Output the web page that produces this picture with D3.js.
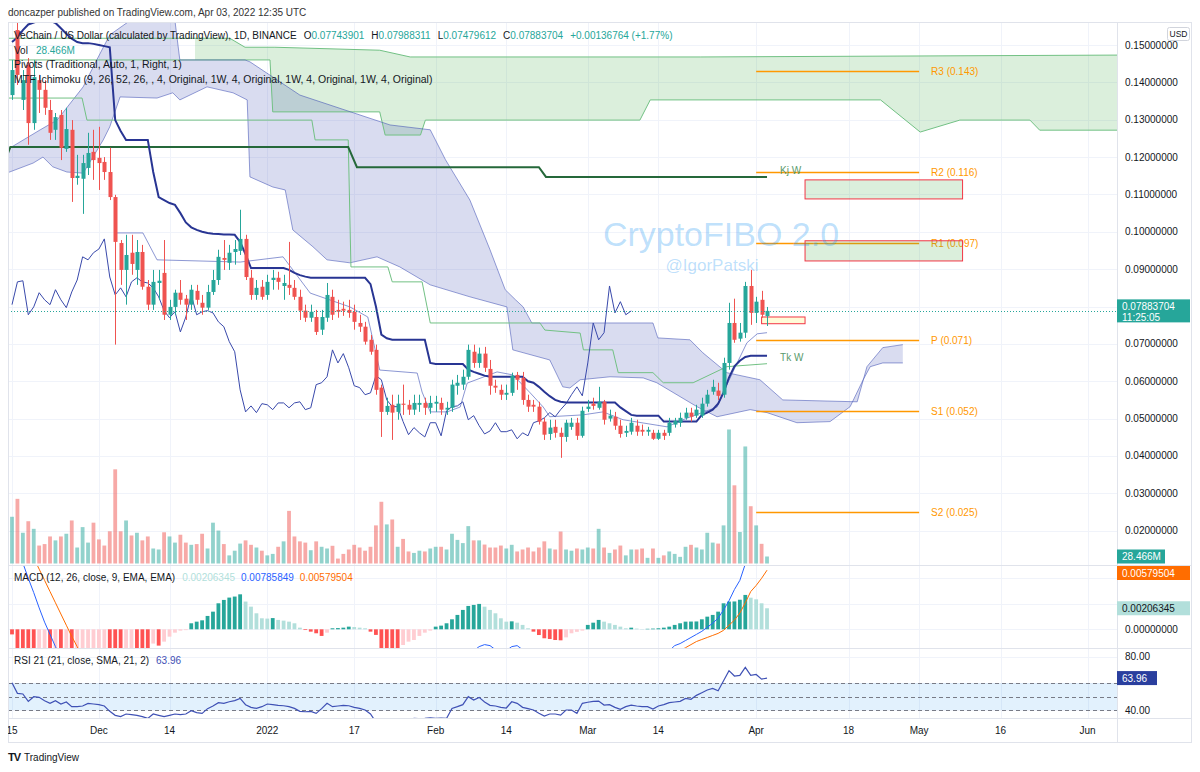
<!DOCTYPE html>
<html>
<head>
<meta charset="utf-8">
<title>VETUSD 1D</title>
<script src="https://cdnjs.cloudflare.com/ajax/libs/d3/7.8.5/d3.min.js"></script>
<style>
  body { margin: 0; background: #ffffff; }
  svg { display: block; font-family: "Liberation Sans", Arial, sans-serif; }
</style>
</head>
<body>
<div id="chart"></div>
<script>
// ---------- data (daily candles from 2021-11-15, one per day) ----------
var startDate = "2021-11-15";

var opens = [.1366,.1540,.1353,.1447,.1291,.1406,.1380,.1326,.1273,.1313,
  .1222,.1273,.1144,.1142,.1171,.1214,.1198,.1187,.1160,.1093,
  .0970,.0898,.0944,.0898,.0946,.0853,.0805,.0863,.0890,.0778,
  .0799,.0837,.0821,.0805,.0842,.0810,.0797,.0839,.0871,.0930,
  .0917,.0946,.0949,.0981,.0877,.0831,.0853,.0831,.0871,.0877,
  .0855,.0858,.0850,.0826,.0789,.0770,.0772,.0738,.0770,.0826,
  .0791,.0794,.0791,.0786,.0756,.0746,.0711,.0684,.0583,.0518,
  .0537,.0518,.0540,.0537,.0524,.0537,.0542,.0529,.0540,.0542,
  .0524,.0529,.0588,.0591,.0612,.0679,.0649,.0674,.0633,.0588,
  .0577,.0564,.0569,.0617,.0609,.0550,.0537,.0532,.0492,.0459,
  .0478,.0462,.0451,.0478,.0489,.0454,.0526,.0540,.0529,.0545,
  .0500,.0505,.0481,.0462,.0465,.0481,.0470,.0465,.0462,.0446,
  .0462,.0462,.0484,.0489,.0502,.0516,.0508,.0508,.0540,.0572,
  .0575,.0564,.0649,.0756,.0714,.0730,.0855,.0783,.0818,.07743901];

var highs = [.1460,.1567,.1433,.1465,.1460,.1420,.1406,.1353,.1318,.1326,
  .1332,.1299,.1206,.1206,.1265,.1273,.1281,.1200,.1225,.1099,
  .0978,.0992,.0992,.0978,.0965,.0871,.0898,.0898,.0978,.0818,
  .0845,.0871,.0831,.0858,.0858,.0831,.0858,.0898,.0952,.0978,
  .0965,.0978,.1059,.0992,.0898,.0871,.0871,.0885,.0898,.0893,
  .0885,.0973,.0871,.0845,.0805,.0805,.0791,.0791,.0863,.0845,
  .0818,.0813,.0818,.0805,.0778,.0759,.0724,.0698,.0591,.0556,
  .0564,.0564,.0591,.0550,.0564,.0564,.0556,.0561,.0561,.0556,
  .0545,.0604,.0617,.0631,.0698,.0698,.0690,.0692,.0657,.0604,
  .0591,.0591,.0623,.0625,.0625,.0564,.0550,.0545,.0502,.0497,
  .0497,.0476,.0497,.0502,.0502,.0532,.0550,.0556,.0585,.0550,
  .0524,.0518,.0497,.0481,.0502,.0497,.0484,.0478,.0470,.0470,
  .0470,.0502,.0502,.0516,.0529,.0529,.0537,.0556,.0577,.0604,
  .0596,.0663,.0810,.0821,.0756,.0866,.0898,.0826,.0842,.07988311];

var lows = [.1353,.1393,.1326,.1233,.1273,.1318,.1313,.1246,.1246,.1192,
  .1214,.1080,.1126,.1048,.1152,.1139,.1112,.1139,.1085,.0698,
  .0858,.0805,.0885,.0858,.0845,.0791,.0791,.0818,.0764,.0764,
  .0778,.0805,.0764,.0791,.0805,.0778,.0791,.0831,.0858,.0898,
  .0898,.0912,.0938,.0871,.0818,.0818,.0818,.0818,.0845,.0845,
  .0818,.0831,.0818,.0764,.0759,.0759,.0724,.0724,.0759,.0764,
  .0770,.0775,.0770,.0738,.0732,.0698,.0671,.0564,.0451,.0510,
  .0443,.0497,.0510,.0510,.0510,.0518,.0510,.0513,.0518,.0510,
  .0510,.0518,.0564,.0577,.0604,.0636,.0636,.0625,.0564,.0569,
  .0550,.0550,.0561,.0577,.0537,.0518,.0518,.0484,.0443,.0443,
  .0449,.0395,.0438,.0470,.0443,.0449,.0518,.0524,.0524,.0484,
  .0492,.0470,.0449,.0451,.0457,.0454,.0454,.0454,.0443,.0443,
  .0443,.0454,.0476,.0478,.0497,.0492,.0502,.0502,.0532,.0564,
  .0550,.0556,.0631,.0703,.0706,.0716,.0751,.0756,.0770,.07479612];

var closes = [.1433,.1420,.1406,.1291,.1414,.1380,.1332,.1265,.1307,.1225,
  .1275,.1144,.1150,.1184,.1211,.1192,.1184,.1160,.1093,.0973,
  .0898,.0938,.0914,.0946,.0853,.0805,.0866,.0869,.0778,.0799,
  .0837,.0818,.0805,.0845,.0818,.0797,.0839,.0871,.0933,.0925,
  .0944,.0954,.0981,.0879,.0831,.0850,.0826,.0866,.0877,.0866,
  .0863,.0850,.0826,.0789,.0770,.0786,.0732,.0772,.0831,.0778,
  .0786,.0789,.0783,.0759,.0746,.0706,.0679,.0577,.0518,.0534,
  .0516,.0540,.0537,.0524,.0542,.0542,.0529,.0542,.0545,.0524,
  .0529,.0591,.0596,.0612,.0684,.0649,.0674,.0636,.0588,.0583,
  .0564,.0569,.0615,.0604,.0550,.0532,.0532,.0492,.0457,.0476,
  .0462,.0451,.0489,.0489,.0454,.0521,.0532,.0534,.0545,.0497,
  .0508,.0481,.0459,.0467,.0489,.0465,.0465,.0470,.0446,.0462,
  .0454,.0489,.0494,.0502,.0516,.0505,.0524,.0540,.0564,.0585,
  .0561,.0649,.0756,.0711,.0730,.0855,.0783,.0813,.0778,.07883704];

// volume, millions of VET
var volumes = [190,263,125,172,141,73,79,110,94,110,
  121,175,65,148,85,166,98,73,131,383,
  131,175,114,125,94,110,61,57,127,110,
  85,117,85,76,79,121,61,166,134,79,
  33,52,81,94,76,65,52,33,39,68,
  90,214,110,90,85,54,90,68,61,72,
  20,39,57,76,65,52,68,155,251,159,
  179,68,100,49,43,52,49,61,68,68,
  57,121,96,83,152,94,94,77,65,65,
  73,61,76,49,57,65,49,65,90,61,
  57,130,57,52,61,57,65,61,141,65,
  43,57,73,33,57,57,61,23,61,23,
  33,49,39,27,68,76,65,57,125,85,
  81,155,545,318,128,476,233,155,80,28.466];

// weekly tenkan, drawn on the daily candles
var tenkan = [.1508,.1520,.1540,.1555,.1560,.1565,.1565,.1565,.1559,.1545,
  .1530,.1517,.1508,.1505,.1505,.1503,.1500,.1497,.1494,.1299,
  .1270,.1246,.1246,.1246,.1246,.1246,.1160,.1093,.1085,.1077,
  .1072,.1050,.1025,.1012,.1005,.1000,.0997,.0995,.0994,.0993,
  .0993,.0992,.0973,.0940,.0903,.0903,.0903,.0903,.0903,.0903,
  .0903,.0898,.0890,.0884,.0880,.0877,.0877,.0877,.0877,.0877,
  .0877,.0877,.0877,.0877,.0877,.0877,.0860,.0800,.0725,.0715,
  .0711,.0711,.0711,.0711,.0711,.0711,.0711,.0649,.0646,.0646,
  .0646,.0646,.0646,.0646,.0631,.0625,.0620,.0615,.0612,.0612,
  .0612,.0612,.0612,.0612,.0612,.0600,.0596,.0585,.0572,.0560,
  .0550,.0545,.0543,.0543,.0543,.0543,.0543,.0543,.0543,.0543,
  .0543,.0543,.0530,.0520,.0510,.0508,.0508,.0508,.0508,.0508,
  .0492,.0492,.0492,.0492,.0492,.0492,.0492,.0510,.0516,.0524,
  .0540,.0570,.0610,.0640,.0655,.0665,.0668,.0668,.0668,.0668];

// step / cloud outlines as [day offset, price]
var kijun = [[-1,.1200],[-0.3,.1227],[61.9,.1227],[63.5,.1173],[97,.1173],[98.3,.1147],[139,.1147]];

var lavUpper = [[-1,.1219],[5.2,.1273],[8.3,.1299],[13.1,.1388],[15.6,.1460],[18,.1527],[21.7,.1565],[30,.1565],
  [30.9,.1460],[42.9,.1460],[43.8,.1455],[53,.1366],[69.6,.1286],[77,.1273],[79.8,.1193],[84.3,.1085],
  [88,.0952],[90.8,.0845],[92.7,.0818],[94.1,.0799],[95.7,.0756],[118,.0756],[118.9,.0716],[124.8,.0711],
  [127.2,.0676],[131.6,.0623],[137.7,.0604],[141.9,.0550],[155.6,.0545],[157.4,.0639],[160.3,.0690],[164,.0698]];
var lavLower = [[-1,.1157],[3.9,.1184],[5.7,.1200],[7.5,.1174],[10.1,.1160],[13.1,.1157],[14.9,.1200],[16.8,.1246],
  [18,.1281],[19.9,.1361],[26.7,.1358],[29.6,.1372],[30.9,.1353],[35.9,.1388],[40.7,.1372],[43.3,.1353],
  [43.8,.1147],[48,.1120],[50.3,.1112],[51.7,.1005],[55.4,.0960],[58,.0925],[62.2,.0917],[67.2,.0933],
  [71.4,.0906],[77,.0858],[84.3,.0826],[91.1,.0799],[92.2,.0684],[99,.0657],[101.4,.0585],[102.7,.0582],
  [104.6,.0604],[110.1,.0612],[116.2,.0609],[118.7,.0596],[126.1,.0532],[129.8,.0505],[135.9,.0524],
  [139,.0516],[144.5,.0489],[150.6,.0492],[154.3,.0532],[156.7,.0604],[158,.0639],[160.3,.0649],[164,.0649]];

var greenUpper = [[-1,.1518],[40.1,.1518],[42.9,.1494],[48.4,.1494],[67.7,.1486],[73.3,.1468],[126.7,.1468],[203.5,.1473]];
var greenLower = [[-1,.1460],[47.5,.1460],[48,.1321],[67.7,.1321],[68.7,.1259],[75.2,.1259],[76.1,.1299],
  [115.6,.1299],[117.5,.1353],[159.9,.1353],[167.2,.1267],[174.5,.1299],[187.4,.1299],[189.2,.1272],[203.5,.1272]];
var greenFillFrom = 33.7;

var kijunDaily = [[-1,.1358],[12.9,.1358],[13.8,.1299],[55.2,.1299],[55.8,.1246],[61.9,.1246],[62.4,.0906],
  [69.2,.0906],[70,.0866],[75.5,.0866],[77,.0756],[97.2,.0756],[98.1,.0737],[104.6,.0729],[105.2,.0684],
  [110.6,.0684],[111.6,.0623],[118,.0623],[119.9,.0596],[125.4,.0596],[131.6,.0639],[139,.0647]];

var tenkanDaily = [[19,.0997],[24.1,.0997],[26.7,.0925],[42,.0919],[49.9,.0933],[54.9,.0836],[62.2,.0799],
  [65.5,.0772],[67.7,.0630],[74.6,.0622],[75.5,.0571],[77,.0518],[80.1,.0518],[82.5,.0531],[83.8,.0595],
  [89.3,.0625],[92.2,.0617],[95.4,.0569],[97.8,.0531],[99,.0505],[105.1,.0510],[108.8,.0518],[112.5,.0497],
  [120.6,.0478],[123.5,.0497],[129.8,.0531],[131.6,.0590],[133.5,.0649],[135.3,.0703],[137.2,.0727],[139,.0730]];

var laggingShift = 25;

// pivots (Apr 1 - May 1)
var pivotNames = ["R3", "R2", "R1", "P", "S1", "S2"];
var pivotValues = [0.143, 0.116, 0.097, 0.071, 0.052, 0.025];
var pivotFrom = 137, pivotTo = 167;

// rectangles drawn by the author
var boxFrom = [146, 146, 138];
var boxTo = [175, 175, 146];
var boxTop = [0.1139, 0.0976, 0.0772];
var boxBottom = [0.1088, 0.0922, 0.0754];

// MACD
var macdHist = [-0.0005,-0.0030,-0.0036,-0.0042,-0.0048,-0.0046,-0.0044,-0.0048,-0.0046,-0.0050,
  -0.0048,-0.0052,-0.0050,-0.0047,-0.0044,-0.0041,-0.0038,-0.0035,-0.0040,-0.0045,
  -0.0048,-0.0044,-0.0040,-0.0043,-0.0045,-0.0047,-0.0014,-0.0016,-0.00121,-0.00072,
  -0.00033,-0.00013,-0.00008,0.00059,0.00075,0.00088,0.00131,0.00173,0.00255,0.00288,
  0.00311,0.00321,0.00343,0.00272,0.00222,0.00157,0.00108,0.00105,0.00110,0.00092,
  0.00085,0.00075,0.00059,0.00016,-0.00007,-0.00023,-0.00039,-0.00065,-0.00033,0.00010,
  0.00012,0.00016,0.00026,0.00022,0.00016,0.00010,-0.00023,-0.00055,-0.0019,-0.0022,
  -0.0024,-0.0025,-0.00154,-0.00121,-0.00105,-0.00065,-0.00033,-0.00013,0.00026,0.00036,
  0.00059,0.00098,0.00141,0.0019,0.00229,0.00239,0.00249,0.00222,0.0019,0.00157,
  0.00108,0.00075,0.00078,0.00065,0.00043,0.0001,-0.00023,-0.00056,-0.00088,-0.00095,
  -0.00105,-0.00108,-0.00079,-0.00039,-0.00025,-0.00013,0.00043,0.00065,0.00092,0.00075,
  0.00059,0.00043,0.00026,0.0001,0.00016,0.00007,0.00003,0.00005,0.00007,0.0001,
  0.00016,0.00026,0.00043,0.00059,0.00075,0.00076,0.00077,0.00098,0.00124,0.00141,
  0.00173,0.00255,0.00272,0.00273,0.0029,0.00337,0.0031,0.00294,0.00255,0.00206345];

// MACD and signal lines, only the parts that sit inside the pane
var macdParts = [
  [0, [0.0095,0.0078,0.0065,0.0050,0.0036,0.0021,0.0007,-0.0005,-0.0017,-0.0029]],
  [85, [-0.0021,-0.0017,-0.0015,-0.0016,-0.0020]],
  [91, [-0.0021,-0.0017,-0.0016,-0.0020]],
  [121, [-0.0021,-0.0016,-0.0014,-0.0011,-0.0008,-0.0005,-0.0002,0.0002,0.0006,0.0011,
         0.0019,0.0028,0.0039,0.0048,0.0064,0.0072,0.0076,0.0078,0.00785849]]
];
var signalParts = [
  [3, [0.0081,0.0070,0.0059,0.0048,0.0037,0.0026,0.0015,0.0004,-0.0007,-0.0017,-0.0028]],
  [123, [-0.0021,-0.0018,-0.0015,-0.0012,-0.0010,-0.0008,-0.0006,-0.0004,-0.0001,0.0004,
         0.0009,0.0016,0.0026,0.0037,0.0043,0.0050,0.00579504]]
];

// RSI 21
var rsi = [60.5,52.5,52,46.5,50,49.5,47,45,47,44.5,
  46,42.5,42.5,43,45,44.5,44,43,39,36,
  35,37,36.5,36,35,33.7,37,36,35,36,
  37,36.5,37,39.5,38,37.5,41,43,45.5,45,
  46.2,47,48.7,44,42,41.2,42.5,44.5,44,43.5,
  43.2,42.5,41.2,39,38.7,39,37.5,41,45,42.5,
  43,43.5,43.2,42,41.2,40,37,31,28,29,
  28,29,30,32,33.7,33.5,33.8,34.2,33.7,33.9,
  33.7,41.2,42.5,44,50,47.5,49.5,46,43.5,43,
  42,41.5,46.2,45,42,41,40,37.5,35.5,37,
  37,36.2,40,40,37.5,45,45.8,46.5,46.7,43.7,
  44,42,40.5,42.5,43.7,43,42.5,42.5,40.7,43,
  44,45.5,46,46.5,48.7,48,51,53,55,56.2,
  54.5,62,69.5,65.5,66,72,66,66.7,63.2,63.96];
var rsiBand = [60, 50, 40];

// axes
var priceTicks = [0.15,0.14,0.13,0.12,0.11,0.10,0.09,0.08,0.07,0.06,0.05,0.04,0.03,0.02];
var macdTicks = [0.005, 0.0025, 0];
var rsiTicks = [80, 60, 40];
var timeTickDates = ["2021-11-15","2021-12-01","2021-12-14","2022-01-01","2022-01-17","2022-02-01","2022-02-14",
  "2022-03-01","2022-03-14","2022-04-01","2022-04-18","2022-05-01","2022-05-16","2022-06-01"];
var timeTickLabels = ["15","Dec","14","2022","17","Feb","14","Mar","14","Apr","18","May","16","Jun"];

// ---------- layout ----------
var left = 8, right = 1117, frameRight = 1191;
var plotTop = 22, mainBottom = 565, macdBottom = 648, rsiBottom = 718, axisBottom = 742;
var up = "#26a69a", down = "#ef5350";

var parse = d3.utcParse("%Y-%m-%d");
var t0 = parse(startDate);
function dayDate(d) { return new Date(t0.getTime() + d * 864e5); }

var x = d3.scaleUtc().domain([t0, parse("2022-06-01")]).range([12, 1087.5]);
function xd(d) { return x(dayDate(d)); }
var y = d3.scaleLinear().domain([0.02, 0.15]).range([530.7, 45]);
var yVol = d3.scaleLinear().domain([0, 545]).range([563.5, 429.5]);
var yMacd = d3.scaleLinear().domain([0, 0.00579504]).range([629.3, 570.2]);
var yRsi = d3.scaleLinear().domain([40, 80]).range([710, 656.7]);

var svg = d3.select("#chart").append("svg")
  .attr("width", 1200).attr("height", 772);

svg.append("rect").attr("width", 1200).attr("height", 772).attr("fill", "#ffffff");

var defs = svg.append("defs");
function addClip(id, x0, y0, x1, y1) {
  defs.append("clipPath").attr("id", id).append("rect")
    .attr("x", x0).attr("y", y0).attr("width", x1 - x0).attr("height", y1 - y0);
}
addClip("clipMain", left, plotTop, right, mainBottom);
addClip("clipMacd", left, mainBottom, right, macdBottom);
addClip("clipRsi", left, macdBottom, right, rsiBottom);
addClip("clipGreen", xd(greenFillFrom), plotTop, right, mainBottom);
addClip("clipAxis", left, rsiBottom, right, axisBottom);

// grid
var grid = svg.append("g").attr("stroke", "#f0f3fa").attr("stroke-width", 1);
priceTicks.forEach(function(v) {
  grid.append("line").attr("x1", left).attr("x2", right)
    .attr("y1", Math.round(y(v)) + 0.5).attr("y2", Math.round(y(v)) + 0.5);
});
macdTicks.forEach(function(v) {
  grid.append("line").attr("x1", left).attr("x2", right)
    .attr("y1", Math.round(yMacd(v)) + 0.5).attr("y2", Math.round(yMacd(v)) + 0.5);
});
rsiTicks.forEach(function(v) {
  grid.append("line").attr("x1", left).attr("x2", right)
    .attr("y1", Math.round(yRsi(v)) + 0.5).attr("y2", Math.round(yRsi(v)) + 0.5);
});
timeTickDates.forEach(function(s) {
  var xx = Math.round(x(parse(s))) + 0.5;
  if (xx < left || xx > right) return;
  grid.append("line").attr("x1", xx).attr("x2", xx).attr("y1", plotTop).attr("y2", rsiBottom);
});

// ---------- main pane ----------
var main = svg.append("g").attr("clip-path", "url(#clipMain)");

var pts = d3.line().x(function(p) { return xd(p[0]); }).y(function(p) { return y(p[1]); });
function bandPath(upper, lower) {
  return pts(upper.concat(lower.slice().reverse())) + "Z";
}

// clouds
main.append("path").attr("d", bandPath(greenUpper, greenLower))
  .attr("clip-path", "url(#clipGreen)")
  .attr("fill", "rgba(76,175,80,0.2)");
main.append("path").attr("d", bandPath(lavUpper, lavLower))
  .attr("fill", "rgba(63,81,181,0.2)");

[greenUpper, greenLower].forEach(function(a) {
  main.append("path").attr("d", pts(a)).attr("fill", "none")
    .attr("stroke", "#72c184").attr("stroke-width", 1);
});
[lavUpper, lavLower].forEach(function(a) {
  main.append("path").attr("d", pts(a)).attr("fill", "none")
    .attr("stroke", "rgba(63,81,181,0.55)").attr("stroke-width", 1);
});

main.append("path").attr("d", pts(kijunDaily)).attr("fill", "none")
  .attr("stroke", "#72c184").attr("stroke-width", 1);
main.append("path").attr("d", pts(tenkanDaily)).attr("fill", "none")
  .attr("stroke", "rgba(63,81,181,0.6)").attr("stroke-width", 1);

// lagging span: closes moved back
var lagging = closes.map(function(c, i) { return [i - laggingShift, c]; })
  .filter(function(p) { return p[0] >= 0; });
main.append("path").attr("d", pts(lagging)).attr("fill", "none")
  .attr("stroke", "#3949ab").attr("stroke-width", 1);

main.append("path").attr("d", pts(kijun)).attr("fill", "none")
  .attr("stroke", "#25683a").attr("stroke-width", 2);
main.append("path").attr("d", pts(tenkan.map(function(v, i) { return [i, v]; })))
  .attr("fill", "none").attr("stroke", "#283593").attr("stroke-width", 2);

// volume
var candles = opens.map(function(o, i) {
  return { i: i, o: o, h: highs[i], l: lows[i], c: closes[i], v: volumes[i] };
});
main.append("g").selectAll("rect").data(candles).enter().append("rect")
  .attr("x", function(d) { return xd(d.i) - 1.9; })
  .attr("width", 3.8)
  .attr("y", function(d) { return yVol(d.v); })
  .attr("height", function(d) { return yVol(0) - yVol(d.v); })
  .attr("fill", function(d) { return d.c >= d.o ? up : down; })
  .attr("opacity", 0.5);

// pivots
pivotValues.forEach(function(v, k) {
  var yy = Math.round(y(v)) + 0.5;
  main.append("line").attr("x1", xd(pivotFrom)).attr("x2", xd(pivotTo))
    .attr("y1", yy).attr("y2", yy).attr("stroke", "#ff9800").attr("stroke-width", 1.5);
  main.append("text").attr("x", xd(pivotTo) + 12).attr("y", yy + 3.5)
    .attr("font-size", 10).attr("fill", "#ff9800")
    .text(pivotNames[k] + " (" + v + ")");
});

// boxes
boxFrom.forEach(function(d0, k) {
  main.append("rect")
    .attr("x", xd(d0)).attr("width", xd(boxTo[k]) - xd(d0))
    .attr("y", y(boxTop[k])).attr("height", y(boxBottom[k]) - y(boxTop[k]))
    .attr("fill", k < 2 ? "rgba(76,175,80,0.2)" : "rgba(255,235,59,0.2)")
    .attr("stroke", "#f23645").attr("stroke-width", 1);
});

// candles
var cg = main.append("g");
cg.selectAll("line").data(candles).enter().append("line")
  .attr("x1", function(d) { return Math.round(xd(d.i)) + 0.5; })
  .attr("x2", function(d) { return Math.round(xd(d.i)) + 0.5; })
  .attr("y1", function(d) { return y(d.h); })
  .attr("y2", function(d) { return y(d.l); })
  .attr("stroke", function(d) { return d.c >= d.o ? up : down; })
  .attr("stroke-width", 1);
cg.selectAll("rect").data(candles).enter().append("rect")
  .attr("x", function(d) { return Math.round(xd(d.i)) - 1.5; })
  .attr("width", 4)
  .attr("y", function(d) { return y(Math.max(d.o, d.c)); })
  .attr("height", function(d) { return Math.max(1, Math.abs(y(d.o) - y(d.c))); })
  .attr("fill", function(d) { return d.c >= d.o ? up : down; });

// line labels
main.append("text").attr("x", xd(141.4)).attr("y", y(0.1163) + 3.5)
  .attr("font-size", 10).attr("fill", "#5a9a6c").text("Kj W");
main.append("text").attr("x", xd(141.4)).attr("y", y(0.0663) + 3.5)
  .attr("font-size", 10).attr("fill", "#5a9a6c").text("Tk W");

// watermark text drawing
main.append("text").attr("x", 721).attr("y", 246).attr("text-anchor", "middle")
  .attr("font-size", 34).attr("fill", "rgba(33,150,243,0.3)").text("CryptoFIBO 2.0");
main.append("text").attr("x", 712).attr("y", 271).attr("text-anchor", "middle")
  .attr("font-size", 17).attr("fill", "rgba(33,150,243,0.3)").text("@IgorPatski");

// last price line
var lastPrice = closes[closes.length - 1];
svg.append("line").attr("x1", left).attr("x2", right)
  .attr("y1", Math.round(y(lastPrice)) + 0.5).attr("y2", Math.round(y(lastPrice)) + 0.5)
  .attr("stroke", up).attr("stroke-dasharray", "1,2");

// ---------- MACD pane ----------
var macd = svg.append("g").attr("clip-path", "url(#clipMacd)");
function histColor(h, i) {
  var prev = i > 0 ? macdHist[i - 1] : 0;
  if (h >= 0) return h >= prev ? "#26a69a" : "#b2dfdb";
  return h <= prev ? "#ff5252" : "#ffcdd2";
}
macd.selectAll("rect").data(macdHist).enter().append("rect")
  .attr("x", function(d, i) { return xd(i) - 1.9; })
  .attr("width", 3.8)
  .attr("y", function(d) { return Math.min(yMacd(d), yMacd(0)); })
  .attr("height", function(d) { return Math.abs(yMacd(d) - yMacd(0)); })
  .attr("fill", histColor);

var macdLine = d3.line().x(function(p) { return xd(p[0]); }).y(function(p) { return yMacd(p[1]); });
function drawParts(parts, color) {
  parts.forEach(function(part) {
    var arr = part[1].map(function(v, k) { return [part[0] + k, v]; });
    macd.append("path").attr("d", macdLine(arr)).attr("fill", "none")
      .attr("stroke", color).attr("stroke-width", 1);
  });
}
drawParts(macdParts, "#2962ff");
drawParts(signalParts, "#ff6d00");

// ---------- RSI pane ----------
var rsiG = svg.append("g").attr("clip-path", "url(#clipRsi)");
rsiG.append("rect").attr("x", left).attr("width", right - left)
  .attr("y", yRsi(rsiBand[0])).attr("height", yRsi(rsiBand[2]) - yRsi(rsiBand[0]))
  .attr("fill", "rgba(33,150,243,0.13)");
rsiBand.forEach(function(v) {
  rsiG.append("line").attr("x1", left).attr("x2", right)
    .attr("y1", Math.round(yRsi(v)) + 0.5).attr("y2", Math.round(yRsi(v)) + 0.5)
    .attr("stroke", "#787b86").attr("stroke-dasharray", "4,3").attr("stroke-width", 1);
});
rsiG.append("path")
  .attr("d", d3.line().x(function(v, i) { return xd(i); }).y(function(v) { return yRsi(v); })(rsi))
  .attr("fill", "none").attr("stroke", "#3f51b5").attr("stroke-width", 1.2);

// ---------- frame and axes ----------
var frame = svg.append("g").attr("stroke", "#e0e3eb").attr("fill", "none");
frame.append("rect").attr("x", left + 0.5).attr("y", plotTop + 0.5)
  .attr("width", frameRight - left).attr("height", axisBottom - plotTop);
frame.append("line").attr("x1", right + 0.5).attr("x2", right + 0.5).attr("y1", plotTop).attr("y2", axisBottom);
[mainBottom, macdBottom, rsiBottom].forEach(function(yy) {
  frame.append("line").attr("x1", left).attr("x2", frameRight).attr("y1", yy + 0.5).attr("y2", yy + 0.5);
});

var fmt8 = d3.format(".8f");
var n = closes.length - 1;

// value labels on the scale (tick labels that they would cover are skipped)
var scaleLabels = [
  { yc: y(closes[n]), h: 23, w: 73, fill: up, color: "#ffffff", lines: [fmt8(closes[n]), "11:25:05"] },
  { yc: yVol(volumes[n]), h: 14, w: 48, fill: up, color: "#ffffff", lines: ["28.466M"] },
  { yc: 573, h: 14, w: 73, fill: "#ff6d00", color: "#ffffff", lines: [fmt8(0.00579504)] },
  { yc: yMacd(macdHist[n]), h: 14, w: 73, fill: "#b2dfdb", color: "#131722", lines: [fmt8(macdHist[n])] },
  { yc: yRsi(rsi[n]), h: 14, w: 40, fill: "#2a3f9e", color: "#ffffff", lines: [d3.format(".2f")(rsi[n])] }
];
function covered(yy) {
  return scaleLabels.some(function(s) { return Math.abs(yy - s.yc) < s.h / 2 + 6; });
}

var ax = svg.append("g").attr("font-size", 10).attr("fill", "#131722");
priceTicks.forEach(function(v) {
  if (covered(y(v))) return;
  ax.append("text").attr("x", 1125).attr("y", y(v) + 3.5).text(fmt8(v));
});
macdTicks.forEach(function(v) {
  if (covered(yMacd(v))) return;
  ax.append("text").attr("x", 1125).attr("y", yMacd(v) + 3.5).text(fmt8(v));
});
rsiTicks.forEach(function(v) {
  if (covered(yRsi(v))) return;
  ax.append("text").attr("x", 1125).attr("y", yRsi(v) + 3.5).text(d3.format(".2f")(v));
});

scaleLabels.forEach(function(s) {
  svg.append("rect").attr("x", right).attr("y", s.yc - s.h / 2).attr("width", s.w).attr("height", s.h)
    .attr("fill", s.fill);
  s.lines.forEach(function(t, k) {
    svg.append("text").attr("x", right + 5).attr("y", s.yc - s.h / 2 + 10.5 + k * 11)
      .attr("font-size", 10).attr("fill", s.color).text(t);
  });
});

var tx = svg.append("g").attr("clip-path", "url(#clipAxis)")
  .attr("font-size", 10).attr("fill", "#131722").attr("text-anchor", "middle");
timeTickDates.forEach(function(s, k) {
  tx.append("text").attr("x", x(parse(s))).attr("y", 734).text(timeTickLabels[k]);
});

// USD badge
svg.append("rect").attr("x", 1167.5).attr("y", 27.5).attr("width", 22).attr("height", 13).attr("rx", 2)
  .attr("fill", "#ffffff").attr("stroke", "#d1d4dc");
svg.append("text").attr("x", 1178.5).attr("y", 37).attr("text-anchor", "middle")
  .attr("font-size", 8.5).attr("fill", "#131722").text("USD");

// ---------- legends ----------
var leg = svg.append("g").attr("fill", "#131722");
var l1 = leg.append("text").attr("x", 14).attr("y", 39).attr("font-size", 10);
l1.append("tspan").text("VeChain / US Dollar (calculated by TradingView), 1D, BINANCE");
[["O", opens[n]], ["H", highs[n]], ["L", lows[n]], ["C", closes[n]]].forEach(function(p) {
  l1.append("tspan").attr("dx", 7).text(p[0]);
  l1.append("tspan").attr("fill", up).text(fmt8(p[1]));
});
l1.append("tspan").attr("dx", 7).attr("fill", up).text("+0.00136764 (+1.77%)");

var l2 = leg.append("text").attr("x", 14).attr("y", 54).attr("font-size", 10);
l2.append("tspan").text("Vol");
l2.append("tspan").attr("dx", 8).attr("fill", up).text("28.466M");
leg.append("text").attr("x", 14).attr("y", 68).attr("font-size", 10.5)
  .text("Pivots (Traditional, Auto, 1, Right, 1)");
leg.append("text").attr("x", 14).attr("y", 83).attr("font-size", 10.5)
  .text("MTF Ichimoku (9, 26, 52, 26, , 4, Original, 1W, 4, Original, 1W, 4, Original, 1W, 4, Original)");

var lm = leg.append("text").attr("x", 14).attr("y", 581).attr("font-size", 10);
lm.append("tspan").text("MACD (12, 26, close, 9, EMA, EMA)");
lm.append("tspan").attr("dx", 7).attr("fill", "#b2dfdb").text(fmt8(macdHist[n]));
lm.append("tspan").attr("dx", 6).attr("fill", "#2962ff").text("0.00785849");
lm.append("tspan").attr("dx", 6).attr("fill", "#ff6d00").text("0.00579504");

var lr = leg.append("text").attr("x", 14).attr("y", 664).attr("font-size", 10);
lr.append("tspan").text("RSI 21 (21, close, SMA, 21, 2)");
lr.append("tspan").attr("dx", 7).attr("fill", "#3f51b5").text(d3.format(".2f")(rsi[n]));

// header and footer
svg.append("text").attr("x", 8).attr("y", 16).attr("font-size", 10).attr("fill", "#333333")
  .text("doncazper published on TradingView.com, Apr 03, 2022 12:35 UTC");
svg.append("text").attr("x", 8).attr("y", 761).attr("font-size", 11).attr("font-weight", "bold")
  .attr("letter-spacing", -1).attr("fill", "#131722").text("TV");
svg.append("text").attr("x", 24).attr("y", 761).attr("font-size", 10).attr("fill", "#131722")
  .text("TradingView");
</script>
</body>
</html>
